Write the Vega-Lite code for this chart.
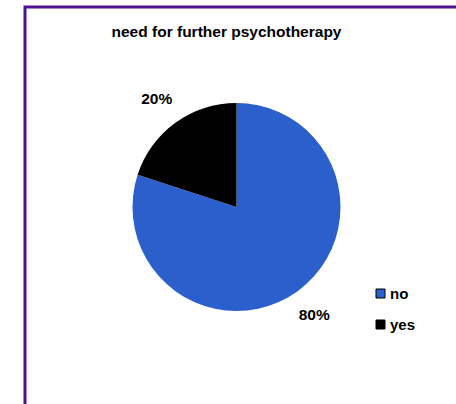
{
  "$schema": "https://vega.github.io/schema/vega-lite/v6.json",
  "autosize": "none",
  "padding": {"left": 25, "top": 7, "right": 0, "bottom": 0},
  "width": 450,
  "height": 400,
  "background": "white",
  "view": {"stroke": "#4B1390", "strokeWidth": 3},
  "config": {
    "view": {"stroke": "#4B1390", "strokeWidth": 3},
    "font": "Liberation Sans"
  },
  "title": {
    "text": "need for further psychotherapy",
    "fontSize": 15.5,
    "fontWeight": "bold",
    "font": "Liberation Sans",
    "color": "black",
    "anchor": "middle",
    "frame": "group",
    "baseline": "top",
    "offset": -33,
    "dx": -23.5
  },
  "data": {
    "values": [
      {"answer": "no", "value": 0.8},
      {"answer": "yes", "value": 0.2}
    ]
  },
  "encoding": {
    "theta": {"field": "value", "type": "quantitative", "stack": true},
    "order": {"field": "answer", "sort": "ascending"}
  },
  "layer": [
    {
      "mark": {"type": "arc", "radius": 104, "xOffset": -13.5},
      "encoding": {
        "color": {
          "field": "answer",
          "type": "nominal",
          "scale": {"domain": ["no", "yes"], "range": ["#2B5FCC", "#000000"]},
          "legend": {
            "title": null,
            "orient": "none",
            "legendX": 348,
            "legendY": 279,
            "symbolType": "square",
            "symbolSize": 81,
            "symbolStrokeColor": "black",
            "symbolStrokeWidth": 1,
            "labelFont": "Liberation Sans",
            "labelFontSize": 15,
            "labelFontWeight": "bold",
            "labelColor": "black",
            "labelOffset": 2,
            "rowPadding": 15
          }
        }
      }
    },
    {
      "mark": {"type": "text", "radius": 134, "xOffset": -14.5, "fontSize": 15.5, "fontWeight": "bold", "font": "Liberation Sans", "color": "black"},
      "encoding": {
        "text": {"field": "value", "type": "quantitative", "format": ".0%"},
        "detail": {"field": "answer", "type": "nominal"}
      }
    }
  ]
}
